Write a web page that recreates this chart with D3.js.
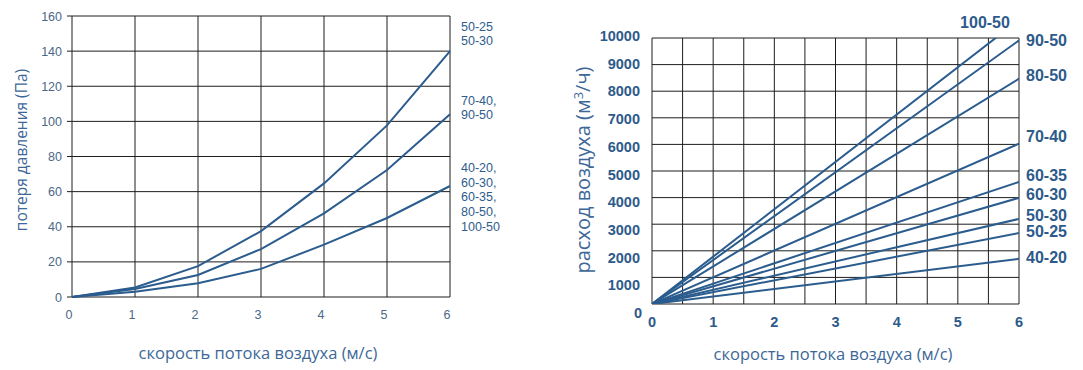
<!DOCTYPE html>
<html lang="ru">
<head>
<meta charset="utf-8">
<script src="https://cdn.jsdelivr.net/npm/d3@7"></script>
<style>
  body { margin: 0; background: #fff; }
  .grid line { stroke: #1e1e1e; stroke-width: 1; }
  .curve { fill: none; stroke: #2b5c8e; stroke-width: 2; }
  .tickL { font-family: "Liberation Sans", Arial, sans-serif; font-size: 12.5px; fill: #4a6888; }
  .tickR { font-family: "Liberation Sans", Arial, sans-serif; font-size: 14.5px; font-weight: bold; fill: #2d5a8a; }
  .title { font-family: "Open Sans", sans-serif; fill: #3d6797; }
  .lblL { font-family: "Liberation Sans", Arial, sans-serif; font-size: 12.5px; fill: #2f5c8c; }
  .lblR { font-family: "Liberation Sans", Arial, sans-serif; font-size: 16px; font-weight: bold; fill: #2d5a8a; }
</style>
</head>
<body>
<div id="chart"></div>
<script>
// left chart: pressure loss vs air speed
var speed = [0, 1, 2, 3, 4, 5, 6];
var lossA = [0, 5.4, 17.6, 37.5, 64.7, 97.7, 140];   // 50-25, 50-30
var lossB = [0, 4.5, 12.5, 27.3, 47.6, 72.3, 104];   // 70-40, 90-50
var lossC = [0, 3, 7.8, 16, 29.8, 45, 63.2];         // 40-20, 60-30, 60-35, 80-50, 100-50
var lossTicks = [0, 20, 40, 60, 80, 100, 120, 140, 160];
var lossLabels = [
  {lines: ["50-25", "50-30"], at: 150},
  {lines: ["70-40,", "90-50"], at: 108},
  {lines: ["40-20,", "60-30,", "60-35,", "80-50,", "100-50"], at: 57}
];

// right chart: air flow vs air speed (value at 6 m/s)
var flowNames = ["100-50", "90-50", "80-50", "70-40", "60-35", "60-30", "50-30", "50-25", "40-20"];
var flowAt6 = [10680, 9910, 8470, 6030, 4590, 3990, 3200, 2670, 1700];
var flowLabelPos = [null, 9910, 8600, 6320, 4860, 4130, 3350, 2750, 1750];
var flowTicks = [0, 1000, 2000, 3000, 4000, 5000, 6000, 7000, 8000, 9000, 10000];

var svg = d3.select("#chart").append("svg")
  .attr("width", 1083).attr("height", 370);

/////// left chart ///////
var xL = d3.scaleLinear().domain([0, 6]).range([72, 450]);
var yL = d3.scaleLinear().domain([0, 160]).range([297, 16]);

var gL = svg.append("g");
gL.append("g").attr("class", "grid")
  .selectAll("line").data(speed).enter().append("line")
  .attr("x1", d => xL(d)).attr("x2", d => xL(d))
  .attr("y1", yL(0)).attr("y2", yL(160));
gL.append("g").attr("class", "grid")
  .selectAll("line").data(lossTicks).enter().append("line")
  .attr("x1", xL(0) - 5).attr("x2", xL(6))
  .attr("y1", d => yL(d)).attr("y2", d => yL(d));

gL.selectAll("text.yl").data(lossTicks).enter().append("text")
  .attr("class", "tickL")
  .attr("x", 62).attr("y", d => yL(d) + 4.5)
  .attr("text-anchor", "end")
  .text(d => d);
gL.selectAll("text.xl").data(speed).enter().append("text")
  .attr("class", "tickL")
  .attr("x", d => xL(d) - 3).attr("y", 319)
  .attr("text-anchor", "middle")
  .text(d => d);

var lineL = d3.line().x((d, i) => xL(speed[i])).y(d => yL(d));
[lossA, lossB, lossC].forEach(function(s) {
  gL.append("path").attr("class", "curve").attr("d", lineL(s));
});

// one text per line so the blocks stay tight
lossLabels.forEach(function(l) {
  var y0 = yL(l.at) + 4.5 - (l.lines.length - 1) * 14.6 / 2;
  l.lines.forEach(function(s, i) {
    gL.append("text").attr("class", "lblL")
      .attr("x", 461).attr("y", y0 + i * 14.6).text(s);
  });
});

gL.append("text").attr("class", "title")
  .attr("transform", "translate(27,150) rotate(-90)")
  .attr("text-anchor", "middle").style("font-size", "15.5px")
  .text("потеря давления (Па)");
gL.append("text").attr("class", "title")
  .attr("x", 258).attr("y", 359)
  .attr("text-anchor", "middle").style("font-size", "16.5px")
  .text("скорость потока воздуха (м/с)");

/////// right chart ///////
var xR = d3.scaleLinear().domain([0, 6]).range([652, 1019]);
var yR = d3.scaleLinear().domain([0, 10000]).range([304, 38]);
// tick labels in the picture are spread slightly wider than the grid
var yRlab = d3.scaleLinear().domain([0, 10000]).range([313, 36]);

var gR = svg.append("g");
gR.append("g").attr("class", "grid")
  .selectAll("line").data(d3.range(0, 6.01, 0.5)).enter().append("line")
  .attr("x1", d => xR(d)).attr("x2", d => xR(d))
  .attr("y1", yR(0)).attr("y2", yR(10000));
gR.append("g").attr("class", "grid")
  .selectAll("line").data(flowTicks).enter().append("line")
  .attr("x1", xR(0)).attr("x2", xR(6))
  .attr("y1", d => yR(d)).attr("y2", d => yR(d));

gR.selectAll("text.yr").data(flowTicks).enter().append("text")
  .attr("class", "tickR")
  .attr("x", d => d === 0 ? 642 : 640).attr("y", d => yRlab(d) + 5)
  .attr("text-anchor", "end")
  .text(d => d);
gR.selectAll("text.xr").data(speed).enter().append("text")
  .attr("class", "tickR")
  .attr("x", d => xR(d)).attr("y", 327)
  .attr("text-anchor", "middle")
  .text(d => d);

svg.append("clipPath").attr("id", "clipR").append("rect")
  .attr("x", xR(0)).attr("y", yR(10000)).attr("width", xR(6) - xR(0)).attr("height", yR(0) - yR(10000));

gR.append("g").attr("clip-path", "url(#clipR)")
  .selectAll("path").data(flowAt6).enter().append("path")
  .attr("class", "curve")
  .attr("d", d => d3.line()([[xR(0), yR(0)], [xR(6), yR(d)]]));

gR.selectAll("text.lr").data(flowNames).enter().append("text")
  .attr("class", "lblR")
  .attr("x", (d, i) => i === 0 ? 985 : 1026)
  .attr("y", (d, i) => i === 0 ? 28 : yR(flowLabelPos[i]) + 6)
  .attr("text-anchor", (d, i) => i === 0 ? "middle" : "start")
  .text(d => d);

gR.append("text").attr("class", "title")
  .attr("transform", "translate(590,170) rotate(-90)")
  .attr("text-anchor", "middle").style("font-size", "20px")
  .html("расход воздуха (м<tspan dy='-7' font-size='13'>3</tspan><tspan dy='7'>/ч)</tspan>");
gR.append("text").attr("class", "title")
  .attr("x", 833).attr("y", 360)
  .attr("text-anchor", "middle").style("font-size", "16.5px")
  .text("скорость потока воздуха (м/с)");
</script>
</body>
</html>
